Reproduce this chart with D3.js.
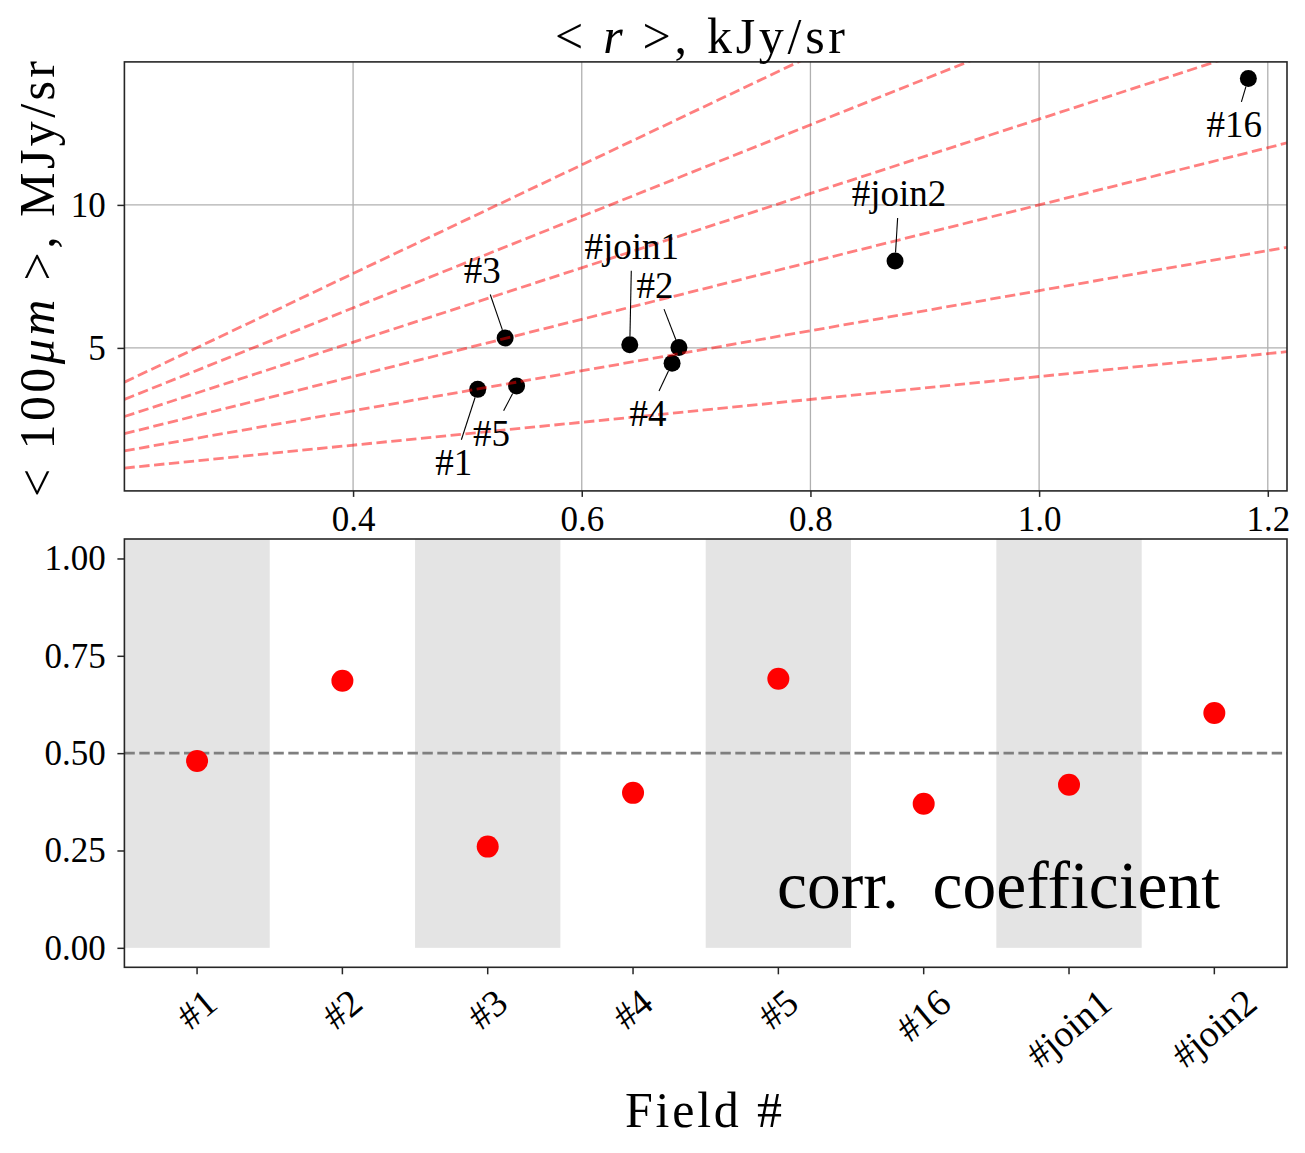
<!DOCTYPE html>
<html>
<head>
<meta charset="utf-8">
<script src="https://d3js.org/d3.v7.min.js"></script>
<style>
    body { margin: 0; background: #fff; }
    svg text { font-family: "Liberation Serif", "Times New Roman", serif; fill: #000; }
    .axis path.domain { display: none; }
    .axis line { stroke: #262626; stroke-width: 1.5; }
</style>
</head>
<body>
<div id="chart"></div>
<script>
// fields shown in both panels
var fields = ["#1", "#2", "#3", "#4", "#5", "#16", "#join1", "#join2"];
// mean r-band brightness per field, kJy/sr
var meanR = [0.509, 0.685, 0.533, 0.679, 0.543, 1.183, 0.642, 0.874];
// mean 100um brightness per field, MJy/sr
var mean100 = [3.55, 5.01, 5.35, 4.46, 3.67, 14.42, 5.11, 8.04];
// correlation coefficient per field
var corrCoef = [0.48, 0.686, 0.26, 0.398, 0.691, 0.37, 0.419, 0.603];
// constant ratio lines  <100um> = k * <r>
var ratioSlopes = [4, 7, 10, 13, 16, 19];
var corrThreshold = 0.5;

// tick values
var topXTicks = [0.4, 0.6, 0.8, 1.0, 1.2];
var topYTicks = [5, 10];
var corrTicks = [0, 0.25, 0.5, 0.75, 1.0];

// where each annotation text sits relative to its point (px)
var labelShift = [[-24, 74], [-24, -62], [-23, -67], [-24, 51], [-25, 48], [-14, 47], [2, -98], [4, -67]];

var W = 1305, H = 1153;
var left = 124.4, right = 1287;
var top1 = 61.9, bot1 = 490.9;
var top2 = 539, bot2 = 967.3;

var svg = d3.select("#chart").append("svg")
    .attr("width", W)
    .attr("height", H);

// ---------- top panel ----------
var x1 = d3.scaleLinear().domain([0.2, 1.2168]).range([left, right]);
var y1 = d3.scaleLinear().domain([0, 15]).range([bot1, top1]);

svg.append("clipPath").attr("id", "clipTop")
    .append("rect")
    .attr("x", left).attr("y", top1)
    .attr("width", right - left).attr("height", bot1 - top1);

var upper = svg.append("g");

// grid
upper.selectAll(".vgrid").data(topXTicks).enter().append("line")
    .attr("x1", function(d) { return x1(d); })
    .attr("x2", function(d) { return x1(d); })
    .attr("y1", top1).attr("y2", bot1)
    .attr("stroke", "#b0b0b0").attr("stroke-width", 1.3);
upper.selectAll(".hgrid").data(topYTicks).enter().append("line")
    .attr("y1", function(d) { return y1(d); })
    .attr("y2", function(d) { return y1(d); })
    .attr("x1", left).attr("x2", right)
    .attr("stroke", "#b0b0b0").attr("stroke-width", 1.3);

// points
var pts = fields.map(function(f, i) { return { name: f, r: meanR[i], v: mean100[i], i: i }; });

upper.selectAll(".dot").data(pts).enter().append("circle")
    .attr("cx", function(d) { return x1(d.r); })
    .attr("cy", function(d) { return y1(d.v); })
    .attr("r", 8.5)
    .attr("fill", "#000");

// ratio lines
var xr = x1.domain();
var line = d3.line()
    .x(function(d) { return x1(d[0]); })
    .y(function(d) { return y1(d[1]); });
upper.append("g").attr("clip-path", "url(#clipTop)")
    .selectAll("path").data(ratioSlopes).enter().append("path")
    .attr("d", function(k) { return line([[xr[0], k * xr[0]], [xr[1], k * xr[1]]]); })
    .attr("fill", "none")
    .attr("stroke", "rgba(255,0,0,0.5)")
    .attr("stroke-width", 2.8)
    .attr("stroke-dasharray", "10.4,4.5");

// annotations
var ann = upper.selectAll(".ann").data(pts).enter().append("g");
ann.each(function(d) {
    var g = d3.select(this);
    var px = x1(d.r), py = y1(d.v);
    var tx = px + labelShift[d.i][0], ty = py + labelShift[d.i][1];
    var t = g.append("text")
        .attr("x", tx).attr("y", ty + 12)
        .attr("text-anchor", "middle")
        .style("font-size", "37px")
        .text(d.name);
    var hw = t.node().getComputedTextLength() / 2 + 2, hh = 16;
    var dx = px - tx, dy = py - ty, len = Math.sqrt(dx * dx + dy * dy);
    var ux = dx / len, uy = dy / len;
    var s = Math.min(Math.abs(ux) > 1e-6 ? hw / Math.abs(ux) : 1e9, Math.abs(uy) > 1e-6 ? hh / Math.abs(uy) : 1e9) + 8;
    g.append("line")
        .attr("x1", tx + ux * s).attr("y1", ty + uy * s)
        .attr("x2", px - ux * 8.5).attr("y2", py - uy * 8.5)
        .attr("stroke", "#000").attr("stroke-width", 1.1);
});

// axes
upper.append("g").attr("class", "axis")
    .attr("transform", "translate(0," + bot1 + ")")
    .call(d3.axisBottom(x1).tickValues(topXTicks).tickFormat(d3.format(".1f")).tickSize(6).tickPadding(9.3))
    .selectAll("text").style("font-size", "35px").attr("fill", "#000");
upper.append("g").attr("class", "axis")
    .attr("transform", "translate(" + left + ",0)")
    .call(d3.axisLeft(y1).tickValues(topYTicks).tickFormat(d3.format("d")).tickSize(7).tickPadding(11.7))
    .selectAll("text").style("font-size", "35px").attr("fill", "#000");

upper.append("rect")
    .attr("x", left).attr("y", top1)
    .attr("width", right - left).attr("height", bot1 - top1)
    .attr("fill", "none").attr("stroke", "#262626").attr("stroke-width", 1.6);

// title
var title = svg.append("text")
    .attr("x", 700).attr("y", 53.3)
    .attr("text-anchor", "middle")
    .attr("textLength", 290)
    .style("font-size", "50px");
title.append("tspan").text("< ");
title.append("tspan").style("font-style", "italic").text("r");
title.append("tspan").text(" >, kJy/sr");

// y label
var ylab = svg.append("text")
    .attr("transform", "translate(54,279) rotate(-90)")
    .attr("text-anchor", "middle")
    .attr("textLength", 436)
    .style("font-size", "50px");
ylab.append("tspan").text("< 100");
ylab.append("tspan").style("font-style", "italic").text("μm");
ylab.append("tspan").text(" >, MJy/sr");

// ---------- bottom panel ----------
var x2 = d3.scaleBand().domain(fields).range([left, right]).padding(0);
var y2 = d3.scaleLinear().domain([-0.05, 1.05]).range([bot2, top2]);
var bw = x2.bandwidth();

var lower = svg.append("g");

// alternate shading
lower.selectAll(".shade").data(fields.filter(function(f, i) { return i % 2 === 0; })).enter().append("rect")
    .attr("x", function(d) { return x2(d); })
    .attr("width", bw)
    .attr("y", top2)
    .attr("height", y2(0) - top2)
    .attr("fill", "#e4e4e4");

lower.append("line")
    .attr("x1", left).attr("x2", right)
    .attr("y1", y2(corrThreshold)).attr("y2", y2(corrThreshold))
    .attr("stroke", "#7f7f7f")
    .attr("stroke-width", 2.8)
    .attr("stroke-dasharray", "10.4,4.5");

lower.selectAll(".cdot").data(fields).enter().append("circle")
    .attr("cx", function(d) { return x2(d) + bw / 2; })
    .attr("cy", function(d, i) { return y2(corrCoef[i]); })
    .attr("r", 11)
    .attr("fill", "#ff0000");

lower.append("text")
    .attr("x", 777).attr("y", 908)
    .style("font-size", "67.5px")
    .style("white-space", "pre")
    .text("corr.  coefficient");

lower.append("g").attr("class", "axis")
    .attr("transform", "translate(" + left + ",0)")
    .call(d3.axisLeft(y2).tickValues(corrTicks).tickFormat(d3.format(".2f")).tickSize(7).tickPadding(11.7))
    .selectAll("text").style("font-size", "35px").attr("fill", "#000");

var xax = lower.append("g").attr("class", "axis")
    .attr("transform", "translate(0," + bot2 + ")")
    .call(d3.axisBottom(x2).tickSize(7));
xax.selectAll("text")
    .style("font-size", "38px")
    .attr("fill", "#000")
    .attr("text-anchor", "middle")
    .attr("y", 0)
    .attr("dy", "0.32em")
    .attr("transform", function() {
        var w = this.getComputedTextLength();
        var a = 40 * Math.PI / 180;
        var bh = w * Math.sin(a) + 32 * Math.cos(a);
        return "translate(0," + (18 + bh / 2) + ") rotate(-40)";
    });

lower.append("rect")
    .attr("x", left).attr("y", top2)
    .attr("width", right - left).attr("height", bot2 - top2)
    .attr("fill", "none").attr("stroke", "#262626").attr("stroke-width", 1.6);

svg.append("text")
    .attr("x", 703.4).attr("y", 1126.7)
    .attr("text-anchor", "middle")
    .attr("textLength", 157)
    .style("font-size", "50px")
    .text("Field #");
</script>
</body>
</html>
